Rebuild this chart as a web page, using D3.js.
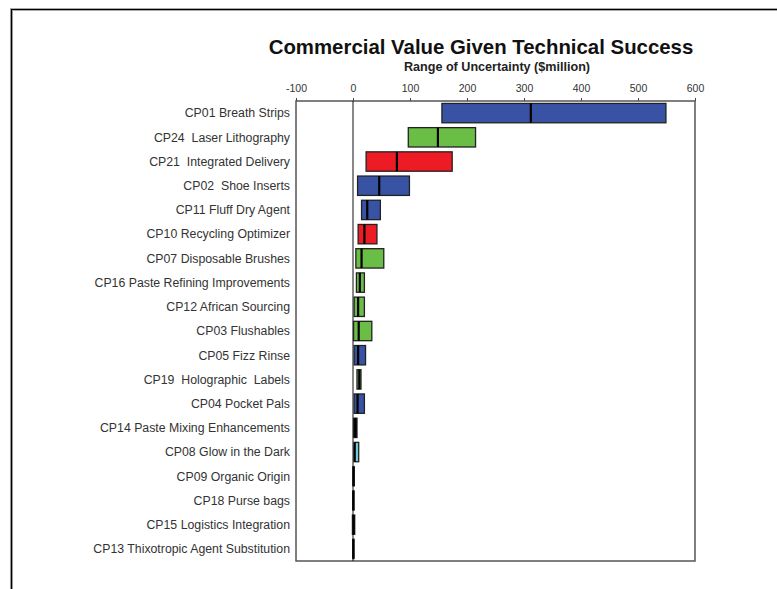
<!DOCTYPE html>
<html>
<head>
<meta charset="utf-8">
<script src="https://cdn.jsdelivr.net/npm/d3@7"></script>
<style>
  body { margin: 0; background: #fff; }
  svg { display: block; font-family: "Liberation Sans", Arial, sans-serif; }
  text { white-space: pre; }
</style>
</head>
<body>
<svg id="chart" width="777" height="589"></svg>
<script>
// Projects, top to bottom
const projects = [
  "CP01 Breath Strips", "CP24  Laser Lithography", "CP21  Integrated Delivery",
  "CP02  Shoe Inserts", "CP11 Fluff Dry Agent", "CP10 Recycling Optimizer",
  "CP07 Disposable Brushes", "CP16 Paste Refining Improvements", "CP12 African Sourcing",
  "CP03 Flushables", "CP05 Fizz Rinse", "CP19  Holographic  Labels",
  "CP04 Pocket Pals", "CP14 Paste Mixing Enhancements", "CP08 Glow in the Dark",
  "CP09 Organic Origin", "CP18 Purse bags", "CP15 Logistics Integration",
  "CP13 Thixotropic Agent Substitution"
];

// Range of uncertainty ($million): low, median, high
const lowValues  = [156, 97, 23, 8, 15, 9, 5, 6, 2, 1, 2, 7, 2, 1, 2, 0, 0, -1, 0];
const midValues  = [312, 149, 77, 46, 25, 20, 15, 12, 9, 10, 9, 11, 8, 4, 3, 1, 0.5, 1, 0.5];
const highValues = [549, 215, 174, 99, 48, 42, 54, 20, 20, 33, 22, 14, 20, 7, 10, 2, 1, 3, 1];

// Project group (drives bar colour)
const groups = ["A", "B", "C", "A", "A", "C", "B", "B", "B", "B", "A", "B", "A", "E", "D", "A", "A", "E", "A"];

const xTicks = [-100, 0, 100, 200, 300, 400, 500, 600];

const svg = d3.select("#chart");

const color = d3.scaleOrdinal()
  .domain(["A", "B", "C", "D", "E"])
  .range(["#3953a4", "#6abd45", "#ed1c24", "#6ccbdc", "#111111"]);

const x = d3.scaleLinear().domain([-100, 600]).range([296, 695]);
const y = d3.scaleBand().domain(projects).range([101, 561]).paddingInner(0.2).paddingOuter(0.1);

const rows = projects.map((p, i) => ({
  name: p, low: lowValues[i], mid: midValues[i], high: highValues[i], group: groups[i]
}));

// outer frame
svg.append("path")
  .attr("d", "M11.5,589V9.5H777")
  .attr("fill", "none")
  .attr("stroke", "#aaa")
  .attr("stroke-width", 3);
svg.append("path")
  .attr("d", "M11.5,589V9.5H777")
  .attr("fill", "none")
  .attr("stroke", "#000")
  .attr("stroke-width", 1.2);

// titles
svg.append("text")
  .attr("x", 481).attr("y", 54)
  .attr("text-anchor", "middle")
  .attr("font-size", 20.4).attr("font-weight", "bold")
  .attr("fill", "#111")
  .text("Commercial Value Given Technical Success");

svg.append("text")
  .attr("x", 497).attr("y", 71)
  .attr("text-anchor", "middle")
  .attr("font-size", 12.6).attr("font-weight", "bold")
  .attr("fill", "#222")
  .text("Range of Uncertainty ($million)");

// plot border
svg.append("rect")
  .attr("x", x(-100)).attr("y", 101)
  .attr("width", x(600) - x(-100)).attr("height", 460)
  .attr("fill", "none")
  .attr("stroke", "#555")
  .attr("stroke-width", 1.5);

// top axis
const xAxis = d3.axisTop(x).tickValues(xTicks).tickSize(3).tickPadding(6)
  .tickFormat(d => String(d));
const axisG = svg.append("g")
  .attr("transform", "translate(0,101)")
  .call(xAxis);
axisG.select(".domain").remove();
axisG.selectAll(".tick line").attr("stroke", "#444");
axisG.selectAll(".tick text")
  .attr("font-size", 10.5)
  .attr("font-family", "Liberation Sans, Arial, sans-serif")
  .attr("fill", "#333");

// zero line
svg.append("line")
  .attr("x1", x(0)).attr("x2", x(0))
  .attr("y1", 101).attr("y2", 561)
  .attr("stroke", "#111")
  .attr("stroke-width", 1);

// category labels
svg.append("g").selectAll("text")
  .data(rows)
  .join("text")
  .attr("x", 290)
  .attr("y", d => y(d.name) + y.bandwidth() / 2)
  .attr("dy", "0.35em")
  .attr("text-anchor", "end")
  .attr("font-size", 12.3)
  .attr("fill", "#333")
  .text(d => d.name);

// range bars
svg.append("g").selectAll("rect")
  .data(rows)
  .join("rect")
  .attr("x", d => x(d.low))
  .attr("y", d => y(d.name))
  .attr("width", d => Math.max(1, x(d.high) - x(d.low)))
  .attr("height", y.bandwidth())
  .attr("fill", d => color(d.group))
  .attr("stroke", "#222")
  .attr("stroke-width", 1.3);

// median marks
svg.append("g").selectAll("line")
  .data(rows)
  .join("line")
  .attr("x1", d => x(d.mid))
  .attr("x2", d => x(d.mid))
  .attr("y1", d => y(d.name))
  .attr("y2", d => y(d.name) + y.bandwidth())
  .attr("stroke", "#000")
  .attr("stroke-width", 2.2);
</script>
</body>
</html>
